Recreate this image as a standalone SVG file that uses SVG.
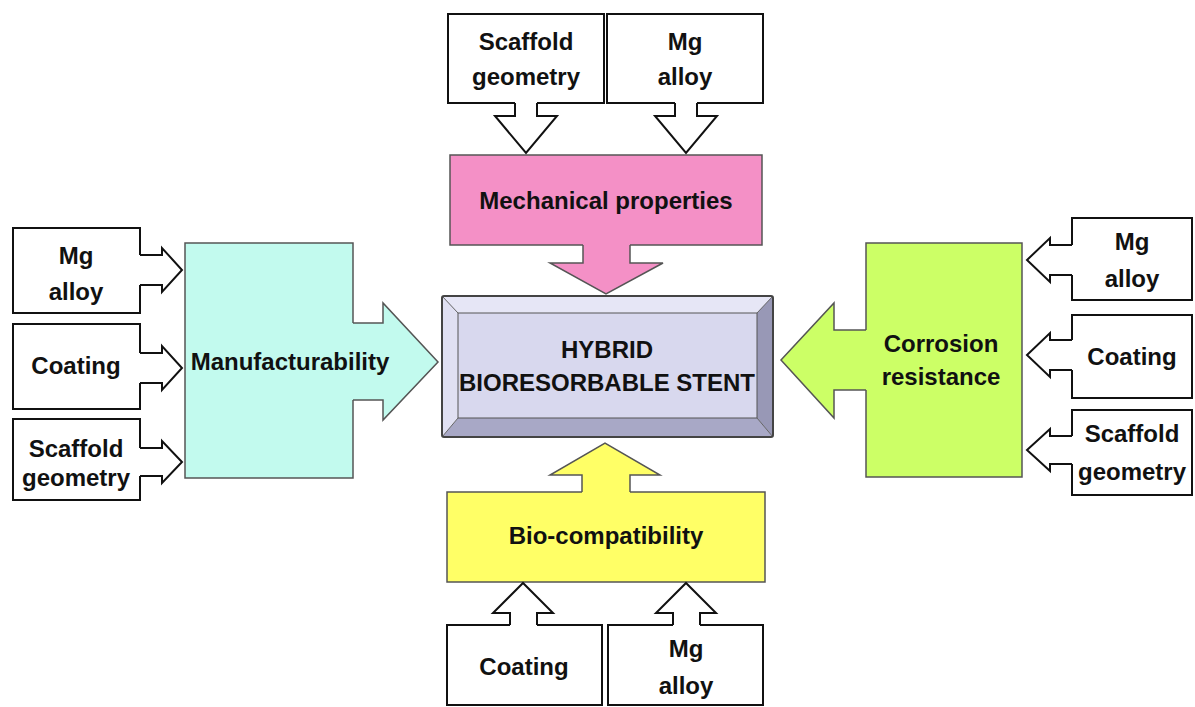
<svg xmlns="http://www.w3.org/2000/svg" width="1195" height="707" viewBox="0 0 1195 707">
<style>
.t{font-family:"Liberation Sans",Arial,sans-serif;font-weight:bold;font-size:24px;fill:#111;text-anchor:middle}
.in{fill:#fff;stroke:#111;stroke-width:2}
.node{stroke:#555;stroke-width:1.5}
.af{stroke:none}
.ao{fill:none;stroke:#111;stroke-width:2;stroke-linejoin:miter}
.bo{fill:none;stroke:#555;stroke-width:1.5;stroke-linejoin:miter}
</style>
<rect width="1195" height="707" fill="#fff"/>

<!-- top inputs -->
<g id="top-scaffold"><rect class="in" x="448" y="14" width="156" height="89"/><text class="t" x="526" y="50">Scaffold</text><text class="t" x="526" y="85">geometry</text></g>
<g id="top-mg"><rect class="in" x="607" y="14" width="156" height="89"/><text class="t" x="685" y="50">Mg</text><text class="t" x="685" y="85">alloy</text></g>

<!-- left inputs -->
<g id="left-mg"><rect class="in" x="13" y="228" width="127" height="85"/><text class="t" x="76" y="264">Mg</text><text class="t" x="76" y="300">alloy</text></g>
<g id="left-coating"><rect class="in" x="13" y="324" width="127" height="85"/><text class="t" x="76" y="374">Coating</text></g>
<g id="left-scaffold"><rect class="in" x="13" y="419" width="127" height="81"/><text class="t" x="76" y="457">Scaffold</text><text class="t" x="76" y="486">geometry</text></g>

<!-- right inputs -->
<g id="right-mg"><rect class="in" x="1072" y="218" width="120" height="82"/><text class="t" x="1132" y="250">Mg</text><text class="t" x="1132" y="287">alloy</text></g>
<g id="right-coating"><rect class="in" x="1072" y="315" width="120" height="83"/><text class="t" x="1132" y="365">Coating</text></g>
<g id="right-scaffold"><rect class="in" x="1072" y="410" width="120" height="85"/><text class="t" x="1132" y="442">Scaffold</text><text class="t" x="1132" y="480">geometry</text></g>

<!-- bottom inputs -->
<g id="bottom-coating"><rect class="in" x="447" y="625" width="155" height="80"/><text class="t" x="524" y="675">Coating</text></g>
<g id="bottom-mg"><rect class="in" x="608" y="625" width="155" height="80"/><text class="t" x="686" y="657">Mg</text><text class="t" x="686" y="694">alloy</text></g>

<!-- category nodes -->
<g id="mechanical"><rect class="node" x="450" y="155" width="312" height="90" fill="#F490C6"/></g>
<g id="manufacturability"><rect class="node" x="185" y="243" width="168" height="235" fill="#C2FAEE"/></g>
<g id="corrosion"><rect class="node" x="866" y="243" width="156" height="234" fill="#CCFF66"/></g>
<g id="biocompat"><rect class="node" x="447" y="492" width="318" height="90" fill="#FFFF66"/></g>

<!-- center node -->
<g id="stent">
<rect x="442" y="296" width="331" height="141" fill="#D8D8EE"/>
<polygon points="442,296 773,296 757,313 458,313" fill="#E6E6F6"/>
<polygon points="773,296 773,437 757,418 757,313" fill="#9898B6"/>
<polygon points="442,437 773,437 757,418 458,418" fill="#A8A8C6"/>
<polygon points="442,296 458,313 458,418 442,437" fill="#E0E0F2"/>
<rect x="458" y="313" width="299" height="105" fill="#D8D8EE" stroke="#555" stroke-width="1"/>
<line x1="442" y1="296" x2="458" y2="313" stroke="#666" stroke-width="1"/>
<line x1="773" y1="296" x2="757" y2="313" stroke="#666" stroke-width="1"/>
<line x1="442" y1="437" x2="458" y2="418" stroke="#666" stroke-width="1"/>
<line x1="773" y1="437" x2="757" y2="418" stroke="#666" stroke-width="1"/>
<rect x="442" y="296" width="331" height="141" fill="none" stroke="#444" stroke-width="2" rx="2"/>
<text class="t" x="607" y="358">HYBRID</text>
<text class="t" x="607" y="391">BIORESORBABLE STENT</text>
</g>

<g id="connectors">
<!-- top inputs to mechanical -->
<polygon class="af" fill="#fff" points="515,100 515,116 495,116 526,153 557,116 537,116 537,100"/>
<polyline class="ao" points="515,103 515,116 495,116 526,153 557,116 537,116 537,103"/>
<polygon class="af" fill="#fff" points="675,100 675,116 655,116 686,153 717,116 697,116 697,100"/>
<polyline class="ao" points="675,103 675,116 655,116 686,153 717,116 697,116 697,103"/>
<!-- left inputs -->
<polygon class="af" fill="#fff" points="137,255 162,255 162,248 182,270 162,292 162,285 137,285"/>
<polyline class="ao" points="140,255 162,255 162,248 182,270 162,292 162,285 140,285"/>
<polygon class="af" fill="#fff" points="137,353 162,353 162,346 182,368 162,390 162,383 137,383"/>
<polyline class="ao" points="140,353 162,353 162,346 182,368 162,390 162,383 140,383"/>
<polygon class="af" fill="#fff" points="137,448 162,448 162,441 182,462 162,483 162,476 137,476"/>
<polyline class="ao" points="140,448 162,448 162,441 182,462 162,483 162,476 140,476"/>
<!-- right inputs -->
<polygon class="af" fill="#fff" points="1075,245 1050,245 1050,238 1027,260 1050,282 1050,275 1075,275"/>
<polyline class="ao" points="1072,245 1050,245 1050,238 1027,260 1050,282 1050,275 1072,275"/>
<polygon class="af" fill="#fff" points="1075,340 1050,340 1050,333 1027,355 1050,377 1050,370 1075,370"/>
<polyline class="ao" points="1072,340 1050,340 1050,333 1027,355 1050,377 1050,370 1072,370"/>
<polygon class="af" fill="#fff" points="1075,436 1050,436 1050,429 1027,450 1050,471 1050,464 1075,464"/>
<polyline class="ao" points="1072,436 1050,436 1050,429 1027,450 1050,471 1050,464 1072,464"/>
<!-- bottom inputs -->
<polygon class="af" fill="#fff" points="510,628 510,613 493,613 523,583 553,613 537,613 537,628"/>
<polyline class="ao" points="510,625 510,613 493,613 523,583 553,613 537,613 537,625"/>
<polygon class="af" fill="#fff" points="673,628 673,613 656,613 686,583 716,613 700,613 700,628"/>
<polyline class="ao" points="673,625 673,613 656,613 686,583 716,613 700,613 700,625"/>
<!-- categories to stent -->
<polygon class="af" fill="#F490C6" points="583,242 583,263 550,263 606,294 663,263 630,263 630,242"/>
<polyline class="bo" points="583,245 583,263 550,263 606,294 663,263 630,263 630,245"/>
<polygon class="af" fill="#C2FAEE" points="350,323 383,323 383,303 438,362 383,420 383,400 350,400"/>
<polyline class="bo" points="353,323 383,323 383,303 438,362 383,420 383,400 353,400"/>
<polygon class="af" fill="#CCFF66" points="869,330 834,330 834,303 781,360 834,418 834,390 869,390"/>
<polyline class="bo" points="866,330 834,330 834,303 781,360 834,418 834,390 866,390"/>
<polygon class="af" fill="#FFFF66" points="582,495 582,475 550,475 605,443 660,475 630,475 630,495"/>
<polyline class="bo" points="582,492 582,475 550,475 605,443 660,475 630,475 630,492"/>
</g>

<!-- category labels -->
<g id="labels">
<text class="t" x="606" y="209">Mechanical properties</text>
<text class="t" x="290" y="370">Manufacturability</text>
<text class="t" x="941" y="352">Corrosion</text>
<text class="t" x="941" y="385">resistance</text>
<text class="t" x="606" y="544">Bio-compatibility</text>
</g>
</svg>
